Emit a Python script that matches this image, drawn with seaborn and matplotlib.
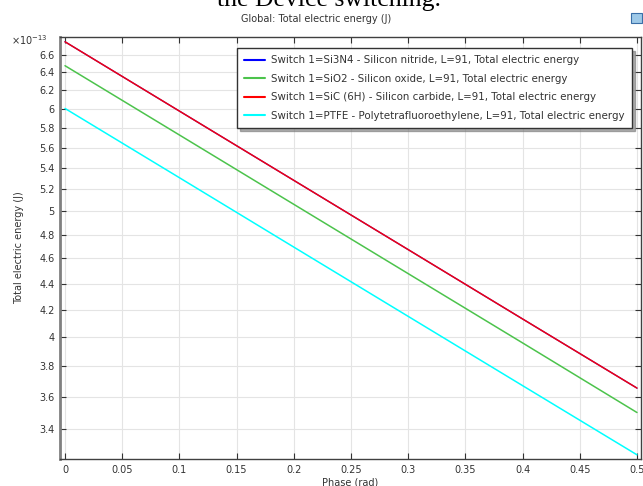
import numpy as np
import pandas as pd
import matplotlib
matplotlib.use("Agg")
import matplotlib.pyplot as plt
from matplotlib.lines import Line2D
from matplotlib.patches import Rectangle
from matplotlib.ticker import FixedLocator, FixedFormatter, NullLocator
import seaborn as sns

# ---------------- data (values in units of 1e-13 J) ----------------
phase = [0.0, 0.1, 0.2, 0.3, 0.4, 0.5]
si3n4 = [6.757, 5.975, 5.284, 4.673, 4.132, 3.655]
sio2 = [6.476, 5.727, 5.064, 4.478, 3.960, 3.500]
sic = [6.757, 5.975, 5.284, 4.673, 4.132, 3.655]
ptfe = [6.003, 5.309, 4.694, 4.151, 3.671, 3.247]

series_names = [
    "Switch 1=Si3N4 - Silicon nitride, L=91, Total electric energy",
    "Switch 1=SiO2 - Silicon oxide, L=91, Total electric energy",
    "Switch 1=SiC (6H) - Silicon carbide, L=91, Total electric energy",
    "Switch 1=PTFE - Polytetrafluoroethylene, L=91, Total electric energy",
]
series_values = [si3n4, sio2, sic, ptfe]
series_colors = ["#0000ff", "#4cc34c", "#ff0000", "#00ffff"]

x_ticks = [0, 0.05, 0.1, 0.15, 0.2, 0.25, 0.3, 0.35, 0.4, 0.45, 0.5]
x_tick_labels = ["0", "0.05", "0.1", "0.15", "0.2", "0.25", "0.3", "0.35", "0.4", "0.45", "0.5"]
y_ticks = [3.4, 3.6, 3.8, 4.0, 4.2, 4.4, 4.6, 4.8, 5.0, 5.2, 5.4, 5.6, 5.8, 6.0, 6.2, 6.4, 6.6]
y_tick_labels = ["3.4", "3.6", "3.8", "4", "4.2", "4.4", "4.6", "4.8", "5", "5.2",
                 "5.4", "5.6", "5.8", "6", "6.2", "6.4", "6.6"]

rows = []
for name, vals in zip(series_names, series_values):
    for p, v in zip(phase, vals):
        rows.append({"phase": p, "energy": v, "series": name})
df = pd.DataFrame(rows)

# ---------------- figure ----------------
sns.set_style("white")
plt.rcParams["font.family"] = ["DejaVu Sans"]

fig = plt.figure(figsize=(6.43, 4.86), dpi=100)
ax = fig.add_axes([60 / 643, 1 - 459 / 486, 581 / 643, (459 - 36.7) / 486])

for name, col in zip(series_names, series_colors):
    sub = df[df["series"] == name]
    alpha = 0.93 if col == "#ff0000" else 1.0
    lw = 0.9 if col == "#0000ff" else 1.1
    sns.lineplot(data=sub, x="phase", y="energy", color=col, lw=lw,
                 alpha=alpha, ax=ax, legend=False, zorder=3)

ax.set_yscale("log")
ax.set_xlim(-0.00437, 0.5035)
ax.set_ylim(3.223, 6.818)

ax.xaxis.set_major_locator(FixedLocator(x_ticks))
ax.xaxis.set_major_formatter(FixedFormatter(x_tick_labels))
ax.yaxis.set_major_locator(FixedLocator(y_ticks))
ax.yaxis.set_major_formatter(FixedFormatter(y_tick_labels))
ax.yaxis.set_minor_locator(NullLocator())
ax.xaxis.set_minor_locator(NullLocator())

ax.grid(True, color="#e4e4e4", lw=0.8, zorder=0)
ax.set_axisbelow(True)
ax.tick_params(axis="both", which="major", direction="in", length=4, width=0.8,
               colors="#333333", labelsize=7, labelcolor="#333333",
               top=True, right=True, left=True, bottom=True, pad=4)

ax.spines["left"].set_color("#808080")
ax.spines["left"].set_linewidth(2.0)
for s in ["bottom", "top", "right"]:
    ax.spines[s].set_color("#404040")
    ax.spines[s].set_linewidth(1.0)

ax.set_xlabel("Phase (rad)", fontsize=7, color="#333333", labelpad=2)
ax.set_ylabel("Total electric energy (J)", fontsize=7, color="#333333", labelpad=11)

# exponent label
fig.text(48 / 643, 1 - 40 / 486, r"$\times10^{-13}$", fontsize=7, color="#333333",
         ha="right", va="center")

# title
fig.text(316 / 643, 1 - 19 / 486, "Global: Total electric energy (J)", fontsize=7,
         color="#333333", ha="center", va="center")

# cut-off caption at top
fig.text(329 / 643, 1 - 6 / 486, "the Device switching.", fontsize=18.5,
         family=["Liberation Serif", "DejaVu Serif"], ha="center", va="baseline",
         color="black")

# small icon top right
fig.patches.append(Rectangle((631 / 643, 1 - 23 / 486), 11 / 643, 10 / 486,
                             transform=fig.transFigure, facecolor="#9ec9e8",
                             edgecolor="#3a6fa8", lw=0.8))

handles = [Line2D([0], [0], color=c, lw=1.5) for c in series_colors]
leg = ax.legend(handles, series_names, loc="upper right",
                bbox_to_anchor=(0.9845, 0.973), fontsize=7.4, frameon=True,
                fancybox=False, shadow={"color": "#777777", "alpha": 0.6},
                framealpha=1, edgecolor="#333333",
                handlelength=2.0, handletextpad=0.6, labelspacing=0.82,
                borderpad=0.7, borderaxespad=0)
leg.get_frame().set_linewidth(1.0)
for t in leg.get_texts():
    t.set_color("#333333")

fig.savefig("out.png", dpi=100)
